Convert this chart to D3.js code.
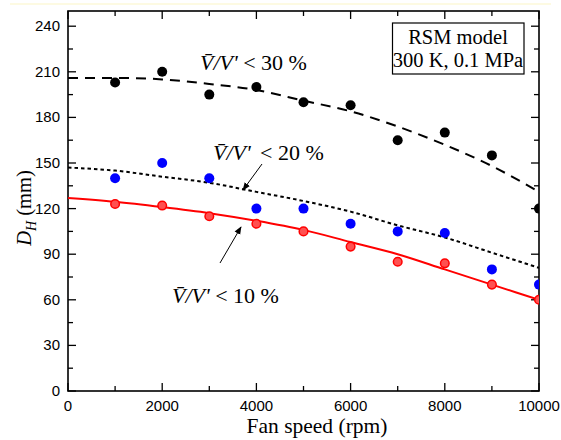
<!DOCTYPE html>
<html><head><meta charset="utf-8">
<script src="https://cdn.jsdelivr.net/npm/d3@7"></script>
<style>body{margin:0;background:#fff}</style>
</head><body>
<svg id="c" width="561" height="440"></svg>
<script>
const rpm = [1000,2000,3000,4000,5000,6000,7000,8000,9000,10000];
const d30 = [203,210,195,200,190,188,165,170,155,120];
const d20 = [140,150,140,120,120,110,105,104,80,70];
const d10 = [123,122,115,110,105,95,85,84,70,60];
const fitX = [0,1000,2000,3000,4000,5000,6000,7000,8000,9000,10000];
const fit30 = [206,206,205,202,198,191,184,174,162,148,131];
const fit20 = [147,145,141,137,131,125,118,109,101,91,81];
const fit10 = [127,124.5,121,117,112,106,98,90,80,70,60];
const xTicks = [0,2000,4000,6000,8000,10000];
const yTicks = [0,30,60,90,120,150,180,210,240];

const SERIF = "'Liberation Serif', 'Times New Roman', serif";
const SANS = "'Liberation Sans', Arial, sans-serif";
const svg = d3.select("#c");
const L=68,R=539,T=11,B=391;
const x = d3.scaleLinear().domain([0,10000]).range([L,R]);
const y = d3.scaleLinear().domain([0,250]).range([B,T]);

svg.append("line").attr("x1",10).attr("x2",551).attr("y1",4).attr("y2",4).attr("stroke","#fdf8d8").attr("stroke-width",1.5);

const g = svg.append("g");
svg.append("clipPath").attr("id","pc").append("rect").attr("x",L).attr("y",T).attr("width",R-L).attr("height",B-T);

const minorX = d3.range(0,10001,1000), minorY = d3.range(0,251,15);
minorX.forEach(v=>{
  const len = v%2000===0?8:5;
  g.append("line").attr("x1",x(v)).attr("x2",x(v)).attr("y1",B).attr("y2",B-len).attr("stroke","#000").attr("stroke-width",1.3);
  g.append("line").attr("x1",x(v)).attr("x2",x(v)).attr("y1",T).attr("y2",T+len).attr("stroke","#000").attr("stroke-width",1.3);
});
minorY.forEach(v=>{
  const len = v%30===0?8:5;
  g.append("line").attr("y1",y(v)).attr("y2",y(v)).attr("x1",L).attr("x2",L+len).attr("stroke","#000").attr("stroke-width",1.3);
  g.append("line").attr("y1",y(v)).attr("y2",y(v)).attr("x1",R).attr("x2",R-len).attr("stroke","#000").attr("stroke-width",1.3);
});
g.append("rect").attr("x",L).attr("y",T).attr("width",R-L).attr("height",B-T).attr("fill","none").attr("stroke","#000").attr("stroke-width",1.6);

xTicks.forEach(v=>{
  g.append("text").attr("x",x(v)).attr("y",B+20).attr("text-anchor","middle")
   .attr("font-family",SANS).attr("font-size",15).text(v);
});
yTicks.forEach(v=>{
  g.append("text").attr("x",L-8).attr("y",y(v)+5).attr("text-anchor","end")
   .attr("font-family",SANS).attr("font-size",15).text(v);
});

g.append("text").attr("x",317).attr("y",433).attr("text-anchor","middle")
 .attr("font-family",SERIF).attr("font-size",21.5).text("Fan speed (rpm)");
const yt = g.append("text").attr("transform","translate(31,208) rotate(-90)").attr("text-anchor","middle")
 .attr("font-family",SERIF).attr("font-size",20.5);
yt.append("tspan").attr("font-style","italic").text("D");
yt.append("tspan").attr("font-style","italic").attr("font-size",14).attr("dy",5).text("H");
yt.append("tspan").attr("dy",-5).text(" (mm)");

const line = (arr)=>d3.line().x((d,i)=>x(fitX[i])).y(d=>y(d)).curve(d3.curveMonotoneX)(arr);
const pc = g.append("g").attr("clip-path","url(#pc)");
pc.append("path").attr("d",line(fit30)).attr("fill","none").attr("stroke","#000").attr("stroke-width",2).attr("stroke-dasharray","10,7");
pc.append("path").attr("d",line(fit20)).attr("fill","none").attr("stroke","#000").attr("stroke-width",2).attr("stroke-dasharray","3.5,3");
pc.append("path").attr("d",line(fit10)).attr("fill","none").attr("stroke","#ff0000").attr("stroke-width",2);

const pts = g.append("g").attr("clip-path","url(#pc)");
rpm.forEach((v,i)=>{
  pts.append("circle").attr("cx",x(v)).attr("cy",y(d30[i])).attr("r",5).attr("fill","#000");
  pts.append("circle").attr("cx",x(v)).attr("cy",y(d20[i])).attr("r",5).attr("fill","#0000ff");
  pts.append("circle").attr("cx",x(v)).attr("cy",y(d10[i])).attr("r",4.3).attr("fill","#ff5050").attr("stroke","#ff0000").attr("stroke-width",1.5);
});

function label(xp,yp,rest,restX){
  const t = g.append("text").attr("x",xp).attr("y",yp).attr("font-family",SERIF).attr("font-size",22);
  t.append("tspan").attr("font-style","italic").text("V\u0304/V'");
  const r = t.append("tspan").text(rest);
  if(restX) r.attr("x",restX);
}
label(200,70," < 30 %");
label(213,160,"< 20 %",260);
label(172,303," < 10 %");

svg.append("defs").append("marker").attr("id","ah").attr("viewBox","0 0 10 10").attr("refX",9).attr("refY",5)
 .attr("markerWidth",8).attr("markerHeight",8).attr("orient","auto")
 .append("path").attr("d","M0,1 L10,5 L0,9 z").attr("fill","#000");
g.append("line").attr("x1",262).attr("y1",164).attr("x2",243).attr("y2",190).attr("stroke","#000").attr("stroke-width",1).attr("marker-end","url(#ah)");
g.append("line").attr("x1",220).attr("y1",263).attr("x2",241).attr("y2",227).attr("stroke","#000").attr("stroke-width",1).attr("marker-end","url(#ah)");

g.append("rect").attr("x",392.5).attr("y",23).attr("width",131.5).attr("height",51).attr("fill","#fff").attr("stroke","#000").attr("stroke-width",1.2);
g.append("text").attr("x",458).attr("y",43.5).attr("text-anchor","middle").attr("font-family",SERIF).attr("font-size",20.5).text("RSM model");
g.append("text").attr("x",458).attr("y",67).attr("text-anchor","middle").attr("font-family",SERIF).attr("font-size",20.5).text("300 K, 0.1 MPa");
</script>
</body></html>
